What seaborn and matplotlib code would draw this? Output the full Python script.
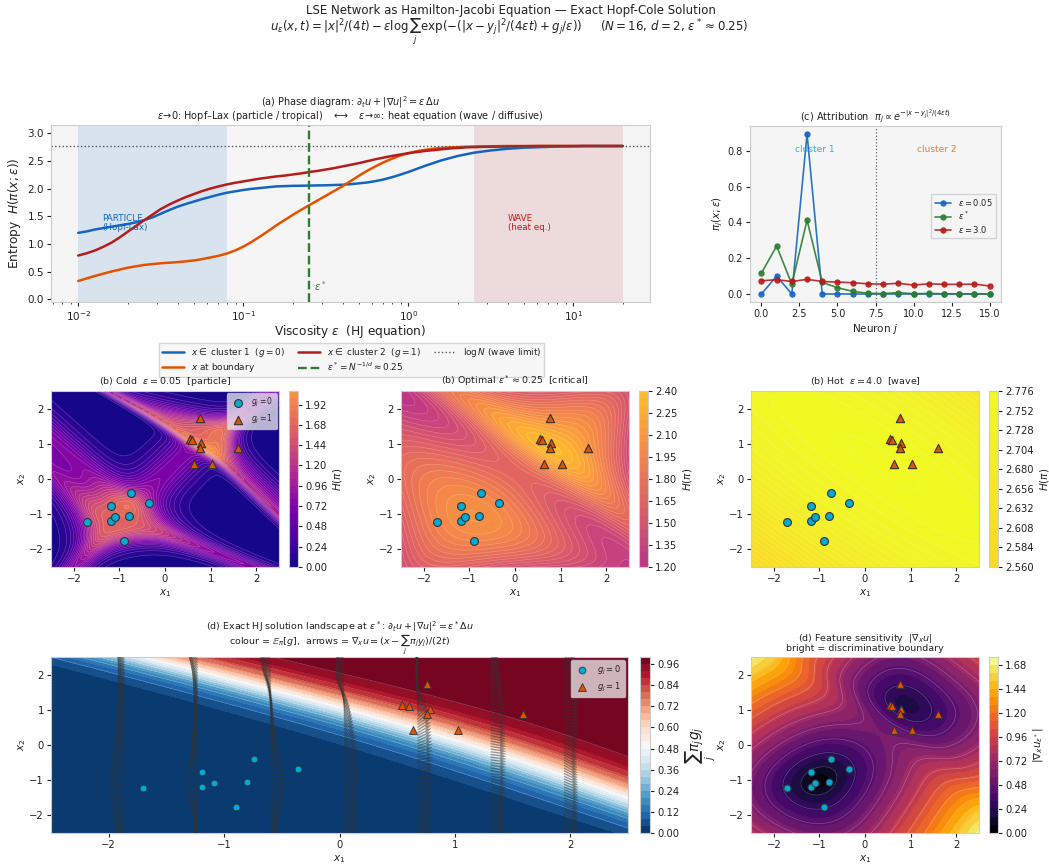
import numpy as np
import matplotlib
matplotlib.use("Agg")
import matplotlib.pyplot as plt
import pandas as pd
import seaborn as sns

# --- data ---
cluster_1_x = [-1.70, -1.19, -1.19, -1.09, -0.80, -0.90, -0.74, -0.36]
cluster_1_y = [-1.23, -0.78, -1.19, -1.09, -1.05, -1.76, -0.39, -0.69]
cluster_2_x = [0.54, 0.60, 0.76, 0.78, 0.76, 0.64, 1.03, 1.59]
cluster_2_y = [1.13, 1.12, 1.73, 1.03, 0.87, 0.43, 0.43, 0.89]

log_eps = [round(-2 + 0.05 * k, 2) for k in range(67)]
H_cluster_1 = [1.20, 1.225, 1.26, 1.285, 1.31, 1.335, 1.36, 1.39, 1.43, 1.48, 1.545, 1.61,
               1.67, 1.72, 1.765, 1.81, 1.85, 1.89, 1.925, 1.95, 1.975, 1.995, 2.01, 2.025,
               2.04, 2.045, 2.05, 2.052, 2.055, 2.058, 2.06, 2.065, 2.07, 2.08, 2.095, 2.11,
               2.135, 2.165, 2.205, 2.25, 2.30, 2.355, 2.41, 2.46, 2.51, 2.55, 2.59, 2.62,
               2.65, 2.67, 2.69, 2.705, 2.72, 2.73, 2.74, 2.745, 2.75, 2.755, 2.76, 2.762,
               2.765, 2.77, 2.77, 2.77, 2.77, 2.77, 2.77]
H_cluster_2 = [0.79, 0.83, 0.88, 0.945, 1.02, 1.115, 1.22, 1.325, 1.43, 1.53, 1.63, 1.71,
               1.78, 1.845, 1.90, 1.955, 2.00, 2.04, 2.075, 2.105, 2.13, 2.155, 2.18, 2.20,
               2.22, 2.235, 2.255, 2.275, 2.30, 2.32, 2.345, 2.37, 2.40, 2.43, 2.46, 2.495,
               2.53, 2.56, 2.59, 2.615, 2.64, 2.66, 2.68, 2.695, 2.71, 2.725, 2.735, 2.745,
               2.75, 2.755, 2.757, 2.76, 2.762, 2.764, 2.766, 2.768, 2.77, 2.77, 2.77, 2.77,
               2.77, 2.77, 2.77, 2.77, 2.77, 2.77, 2.77]
H_boundary = [0.33, 0.375, 0.42, 0.46, 0.50, 0.535, 0.57, 0.595, 0.62, 0.635, 0.65, 0.66,
              0.67, 0.685, 0.70, 0.725, 0.755, 0.785, 0.825, 0.88, 0.95, 1.035, 1.13, 1.23,
              1.335, 1.43, 1.525, 1.615, 1.70, 1.785, 1.87, 1.955, 2.04, 2.135, 2.23, 2.32,
              2.40, 2.475, 2.54, 2.595, 2.64, 2.675, 2.70, 2.72, 2.735, 2.745, 2.75, 2.757,
              2.76, 2.763, 2.766, 2.768, 2.77, 2.77, 2.77, 2.77, 2.77, 2.77, 2.77, 2.77,
              2.77, 2.77, 2.77, 2.77, 2.77, 2.77, 2.77]

neuron = list(range(16))
pi_cold = [0.0, 0.10, 0.0, 0.895, 0.0, 0.0, 0.0, 0.0, 0.0, 0.0, 0.0, 0.0, 0.0, 0.0, 0.0, 0.0]
pi_opt = [0.117, 0.268, 0.055, 0.413, 0.065, 0.035, 0.015, 0.004, 0.002, 0.008, 0.001,
          0.003, 0.001, 0.001, 0.001, 0.0]
pi_hot = [0.074, 0.08, 0.07, 0.082, 0.07, 0.067, 0.063, 0.057, 0.055, 0.06, 0.05,
          0.057, 0.054, 0.054, 0.055, 0.045]

EPS_STAR = 0.25
T = 1.0
G_WEIGHT_D = 0.85  # fitted by eye, moves the boundary in the wide panel onto the one in the picture
BLUE, ORANGE, RED, GREEN = "#1565C0", "#E65100", "#B71C1C", "#2E7D32"
CYAN = "#00ACD7"
W, H = 1049, 867

sns.set_style("ticks", rc={"axes.facecolor": "#F5F5F5", "axes.edgecolor": "#CCCCCC",
                           "xtick.color": "#222222", "ytick.color": "#222222",
                           "text.color": "#222222", "axes.labelcolor": "#222222"})
plt.rcParams["mathtext.fontset"] = "dejavusans"
plt.rcParams["xtick.major.size"] = 3
plt.rcParams["ytick.major.size"] = 3
plt.rcParams["xtick.minor.size"] = 1.5

fig = plt.figure(figsize=(W / 100, H / 100), dpi=100)


def box(left, top, right, bottom):
    return fig.add_axes([left / W, 1 - bottom / H, (right - left) / W, (bottom - top) / H])


# Hopf-Cole attribution on a grid of query points
ys = np.array(list(zip(cluster_1_x + cluster_2_x, cluster_1_y + cluster_2_y)))
gs = np.array([0] * 8 + [1] * 8)


def attribution(x1, x2, eps, g_weight=1.0):
    d2 = (x1[..., None] - ys[:, 0]) ** 2 + (x2[..., None] - ys[:, 1]) ** 2
    logits = -(d2 / (4 * eps * T) + g_weight * gs / eps)
    logits -= logits.max(axis=-1, keepdims=True)
    p = np.exp(logits)
    return p / p.sum(axis=-1, keepdims=True)


def entropy(p):
    return -(p * np.log(np.clip(p, 1e-300, None))).sum(axis=-1)


def grad_u(x1, x2, eps, g_weight=1.0):
    p = attribution(x1, x2, eps, g_weight)
    return (x1 - (p * ys[:, 0]).sum(-1)) / (2 * T), (x2 - (p * ys[:, 1]).sum(-1)) / (2 * T)


grid = np.linspace(-2.5, 2.5, 200)
X1, X2 = np.meshgrid(grid, grid)


def points(ax, s1, s2, lw=0.8):
    sns.scatterplot(x=cluster_1_x, y=cluster_1_y, marker="o", s=s1, color=CYAN, edgecolor="#333333",
                    linewidth=lw, ax=ax, label="$g_j=0$", zorder=5)
    sns.scatterplot(x=cluster_2_x, y=cluster_2_y, marker="^", s=s2, color=ORANGE, edgecolor="#333333",
                    linewidth=lw, ax=ax, label="$g_j=1$", zorder=5)


def cbar(cf, pos, label, labelsize=7.5):
    cax = box(*pos)
    cb = fig.colorbar(cf, cax=cax)
    cb.set_label(label, fontsize=labelsize, labelpad=3)
    cb.ax.tick_params(labelsize=7.2, length=3, pad=2)
    cb.outline.set_edgecolor("#CCCCCC")
    return cb


def finish(ax):
    ax.set_xlim(-2.5, 2.5)
    ax.set_ylim(-2.5, 2.5)
    ax.set_xlabel("$x_1$", fontsize=7.5, labelpad=2)
    ax.set_ylabel("$x_2$", fontsize=7.5, labelpad=1)
    ax.tick_params(labelsize=7.2, pad=2)
    ax.set_xticks([-2, -1, 0, 1, 2])
    ax.set_yticks([-2, -1, 0, 1, 2])


# (a) phase diagram
ax = box(51, 125, 650, 302)
eps_values = [10 ** v for v in log_eps]
df_a = pd.DataFrame({"eps": eps_values, "c1": H_cluster_1, "c2": H_cluster_2, "bd": H_boundary})
ax.axvspan(0.01, 0.08, color=BLUE, alpha=0.12, lw=0)
ax.axvspan(2.5, 20, color=RED, alpha=0.12, lw=0)
sns.lineplot(data=df_a, x="eps", y="c1", color=BLUE, lw=1.8, ax=ax, label=r"$x\in$ cluster 1  $(g=0)$")
sns.lineplot(data=df_a, x="eps", y="bd", color=ORANGE, lw=1.8, ax=ax, label=r"$x$ at boundary")
sns.lineplot(data=df_a, x="eps", y="c2", color=RED, lw=1.8, ax=ax, label=r"$x\in$ cluster 2  $(g=1)$")
ax.axvline(EPS_STAR, color=GREEN, ls="--", lw=1.7, label=r"$\varepsilon^*=N^{-1/d}\approx 0.25$")
ax.axhline(np.log(16), color="#555555", ls=":", lw=1, label=r"$\log N$ (wave limit)")
ax.set_xscale("log")
ax.set_xlim(10 ** -2.165, 10 ** 1.465)
ax.set_ylim(-0.05, 3.15)
ax.set_xlabel(r"Viscosity $\varepsilon$  (HJ equation)", fontsize=8.7, labelpad=0)
ax.set_ylabel(r"Entropy  $H(\pi(x;\varepsilon))$", fontsize=8.7, labelpad=3)
ax.tick_params(axis="both", labelsize=7.5, pad=2)
ax.set_title("(a) Phase diagram: $\\partial_t u+|\\nabla u|^2=\\varepsilon\\,\\Delta u$\n"
             "$\\varepsilon\\!\\to\\!0$: Hopf–Lax (particle / tropical)   $\\longleftrightarrow$   "
             "$\\varepsilon\\!\\to\\!\\infty$: heat equation (wave / diffusive)", fontsize=7, pad=4,
             linespacing=0.95)
ax.text(0.014, 1.25, "PARTICLE\n(Hopf-Lax)", color=BLUE, fontsize=6.3, linespacing=1.0)
ax.text(4.0, 1.25, "WAVE\n(heat eq.)", color=RED, fontsize=6.3, linespacing=1.0)
ax.text(0.27, 0.14, r"$\varepsilon^*$", color=GREEN, fontsize=7)
ax.legend(ncol=3, fontsize=6.4, loc="upper center", bbox_to_anchor=(0.502, -0.232), frameon=True,
          facecolor="#F5F5F5", edgecolor="#CCCCCC", fancybox=False, borderaxespad=0,
          columnspacing=1.5, handlelength=2.4, labelspacing=0.2, borderpad=0.35)

# (c) attribution
ax = box(750, 126, 1001, 302)
df_c = pd.DataFrame({"j": neuron, "cold": pi_cold, "opt": pi_opt, "hot": pi_hot})
for col, c, lab in [("cold", BLUE, r"$\varepsilon=0.05$"), ("opt", GREEN, r"$\varepsilon^*$"),
                    ("hot", RED, r"$\varepsilon=3.0$")]:
    sns.lineplot(data=df_c, x="j", y=col, color=c, lw=1.2, marker="o", ms=3.8, mec=c, alpha=0.9,
                 ax=ax, label=lab)
ax.axvline(7.5, color="#666666", ls=":", lw=0.9)
ax.text(3.5, 0.81, "cluster 1", color=CYAN, fontsize=6.5, ha="center", va="center", alpha=0.85)
ax.text(11.5, 0.81, "cluster 2", color=ORANGE, fontsize=6.5, ha="center", va="center", alpha=0.75)
ax.set_xlabel("Neuron $j$", fontsize=7.5, labelpad=2)
ax.set_ylabel(r"$\pi_j(x;\varepsilon)$", fontsize=7.5, labelpad=2)
ax.tick_params(labelsize=7, pad=2)
ax.set_title(r"(c) Attribution  $\pi_j\propto e^{-|x-y_j|^2/(4\varepsilon t)}$", fontsize=7, pad=4)
ax.legend(fontsize=6, loc="center right", bbox_to_anchor=(0.98, 0.49), facecolor="#F5F5F5",
          edgecolor="#CCCCCC", fancybox=False, borderaxespad=0, labelspacing=0.2)

# (b) entropy fields
panels = [(0.05, r"(b) Cold  $\varepsilon=0.05$  [particle]", 51, 289),
          (EPS_STAR, r"(b) Optimal $\varepsilon^*\approx 0.25$  [critical]", 401, 639),
          (4.0, r"(b) Hot  $\varepsilon=4.0$  [wave]", 751, 989)]
for i, (eps, title, left, cleft) in enumerate(panels):
    ax = box(left, 391, left + 228, 567)
    field = entropy(attribution(X1, X2, eps))
    cf = ax.contourf(X1, X2, field, levels=25, cmap="plasma", vmin=0, vmax=np.log(16))
    ax.contour(X1, X2, field, levels=25, colors="white", linewidths=0.4, alpha=0.25)
    points(ax, 32, 36)
    finish(ax)
    ax.set_title(title, fontsize=6.8, pad=5)
    if i == 0:
        ax.legend(fontsize=5.5, loc="upper right", facecolor="#EEEEEE", framealpha=0.75,
                  edgecolor="#CCCCCC", borderaxespad=0.3)
    else:
        ax.get_legend().remove()
    cbar(cf, (cleft, 391, cleft + 9, 567), r"$H(\pi)$")

# (d) landscape with gradient arrows
ax = box(51, 657, 628, 833)
gbar = (attribution(X1, X2, EPS_STAR, G_WEIGHT_D) * gs).sum(-1)
cf = ax.contourf(X1, X2, gbar, levels=25, cmap="RdBu_r", vmin=0, vmax=1)
ax.contour(X1, X2, gbar, levels=12, colors="white", linewidths=0.4, alpha=0.3)
Qx, Qy = np.meshgrid(-2.5 + 0.635 * np.arange(8), np.linspace(-2.5, 2.5, 66))
Gx, Gy = grad_u(Qx, Qy, EPS_STAR, G_WEIGHT_D)
norm = np.hypot(Gx, Gy)
ax.quiver(Qx, Qy, Gx / norm, Gy / norm, color="#333333", alpha=0.5, width=0.0022,
          scale=6.3, scale_units="inches", zorder=3)
points(ax, 24, 32, lw=0.6)
finish(ax)
ax.set_title("(d) Exact HJ solution landscape at $\\varepsilon^*$: "
             "$\\partial_t u+|\\nabla u|^2=\\varepsilon^*\\Delta u$\n"
             "colour = $\\mathbb{E}_\\pi[g]$,  arrows = $\\nabla_x u=(x-\\sum_j\\pi_j y_j)/(2t)$",
             fontsize=6.8, pad=5, linespacing=0.9)
ax.legend(fontsize=6, loc="upper right", facecolor="#EEEEEE", framealpha=0.75, edgecolor="#CCCCCC",
          borderaxespad=0.4)
cbar(cf, (640, 657, 650, 833), r"$\sum_j\pi_j g_j$", labelsize=10)

# (d) feature sensitivity
ax = box(751, 657, 979, 833)
Gx, Gy = grad_u(X1, X2, EPS_STAR)
sens = np.hypot(Gx, Gy)
cf = ax.contourf(X1, X2, sens, levels=25, cmap="inferno")
ax.contour(X1, X2, sens, levels=15, colors="white", linewidths=0.4, alpha=0.3)
points(ax, 26, 30, lw=0.7)
ax.get_legend().remove()
finish(ax)
ax.set_title("(d) Feature sensitivity  $|\\nabla_x u|$\nbright = discriminative boundary", fontsize=6.8,
             pad=4, linespacing=0.95)
cbar(cf, (989, 657, 998, 833), r"$|\nabla_x u_{\varepsilon^*}|$")

fig.text(0.4871, 0.995, "LSE Network as Hamilton-Jacobi Equation — Exact Hopf-Cole Solution",
         ha="center", va="top", fontsize=8.45)
fig.text(0.4857, 0.98,
         r"$u_\varepsilon(x,t)=|x|^2/(4t)-\varepsilon\log\sum_j\exp(-(|x-y_j|^2/(4\varepsilon t)+g_j/\varepsilon))$"
         r"     $(N=16,\,d=2,\,\varepsilon^*\approx 0.25)$",
         ha="center", va="top", fontsize=8.45)

plt.savefig("out.png", dpi=100)
